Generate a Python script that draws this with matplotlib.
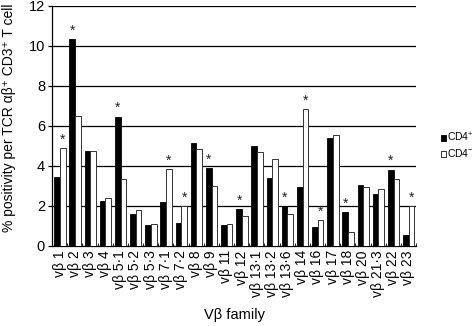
import numpy as np
import matplotlib
matplotlib.use('Agg')
import matplotlib.pyplot as plt

plt.rcParams['font.family'] = ['Liberation Sans', 'DejaVu Sans']
plt.rcParams['mathtext.fontset'] = 'custom'
plt.rcParams['mathtext.rm'] = 'Liberation Sans'

families = ['1', '2', '3', '4', '5·1', '5·2', '5·3', '7·1', '7·2', '8', '9',
            '11', '12', '13·1', '13·2', '13·6', '14', '16', '17', '18', '20',
            '21·3', '22', '23']
cd4_pos = [3.45, 10.35, 4.77, 2.23, 6.47, 1.58, 1.03, 2.22, 1.17, 5.13, 3.9,
           1.03, 1.85, 5.02, 3.42, 1.98, 2.97, 0.95, 5.4, 1.7, 3.05, 2.62,
           3.82, 0.57]
cd4_neg = [4.88, 6.48, 4.77, 2.38, 3.35, 1.78, 1.12, 3.83, 1.98, 4.87, 3.0,
           1.1, 1.52, 4.68, 4.37, 1.58, 6.83, 1.3, 5.53, 0.68, 2.93, 2.85,
           3.35, 1.98]
# significant differences: (family index, 0 = CD4+ bar, 1 = CD4- bar)
stars = [(0, 1), (1, 0), (4, 0), (7, 1), (8, 1), (10, 0), (12, 0), (15, 0),
         (16, 1), (17, 1), (19, 0), (22, 0), (23, 1)]

fig = plt.figure(figsize=(4.75, 3.26), dpi=100)
ax = fig.add_axes([0.1095, 0.2454, 0.7663, 0.7362])

x = np.arange(len(families))
w = 0.375
off = [-0.1625, 0.2125]
ax.bar(x + off[0], cd4_pos, w, color='black', edgecolor='black', lw=0.6,
       zorder=3, label=r'CD4$^{+}$')
ax.bar(x + off[1], cd4_neg, w, color='white', edgecolor='#333333', lw=0.7,
       zorder=3, label=r'CD4$^{-}$')

for i, k in stars:
    v = cd4_pos[i] if k == 0 else cd4_neg[i]
    ax.annotate('*', (x[i] + off[k], v), xytext=(0, 1), textcoords='offset points',
                ha='center', va='bottom', fontsize=10, color='#222222')

ax.set_xlim(-0.5, len(families) - 0.5)
ax.set_ylim(0, 12)
ax.set_yticks(range(0, 13, 2))
ax.yaxis.grid(True, color='black', lw=0.9, zorder=0)
ax.set_axisbelow(True)
for s in ['top', 'right']:
    ax.spines[s].set_visible(False)
ax.spines['left'].set_linewidth(0.9)
ax.spines['bottom'].set_linewidth(0.9)

ax.set_xticks(x)
ax.set_xticklabels(['vβ ' + f for f in families], rotation=90, fontsize=10)
ax.tick_params(axis='x', length=0, pad=3)
ax.set_xticks(np.arange(-0.5, len(families), 1), minor=True)
ax.tick_params(axis='x', which='minor', length=2, direction='in', width=0.6)
ax.tick_params(axis='y', labelsize=10.5, length=3, width=0.9, pad=2)

ax.set_ylabel('% positivity per TCR αβ⁺ CD3⁺ T cell', fontsize=10)
ax.yaxis.set_label_coords(-0.1, 0.535)
ax.set_xlabel('Vβ family', fontsize=10.5, labelpad=8)

ax.legend(loc='center left', bbox_to_anchor=(1.068, 0.42), frameon=False,
          fontsize=7.5, handlelength=0.5, handleheight=0.5, handletextpad=0.1,
          labelspacing=0.3, borderaxespad=0, borderpad=0)

fig.savefig('out.png', dpi=100)
